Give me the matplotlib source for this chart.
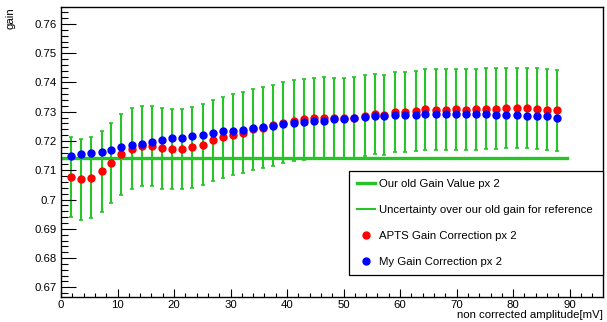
import matplotlib
matplotlib.use("Agg")
import matplotlib.pyplot as plt
from matplotlib.lines import Line2D
from matplotlib.ticker import MultipleLocator, FuncFormatter

plt.rcParams['font.family'] = ['Liberation Sans', 'DejaVu Sans']

# non corrected amplitude [mV]
amplitude = [1.72, 3.54, 5.36, 7.20, 8.85, 10.67, 12.51, 14.34, 16.11, 17.93,
             19.70, 21.42, 23.24, 25.08, 26.85, 28.62, 30.44, 32.21, 34.04, 35.81,
             37.58, 39.35, 41.24, 42.96, 44.73, 46.60, 48.37, 50.14, 51.91, 53.75,
             55.58, 57.22, 59.12, 60.94, 62.78, 64.48, 66.32, 68.09, 69.86, 71.63,
             73.45, 75.22, 76.94, 78.76, 80.65, 82.42, 84.19, 85.96, 87.84]

apts_gain = [0.7077, 0.7069, 0.7075, 0.7097, 0.7125, 0.7155, 0.7174, 0.7183, 0.7183, 0.7175,
             0.7173, 0.7173, 0.7179, 0.7188, 0.7202, 0.7213, 0.7222, 0.7229, 0.7240, 0.7246,
             0.7254, 0.7263, 0.7269, 0.7274, 0.7277, 0.7280, 0.7277, 0.7278, 0.7280, 0.7286,
             0.7292, 0.7289, 0.7299, 0.7299, 0.7303, 0.7308, 0.7307, 0.7307, 0.7308, 0.7307,
             0.7308, 0.7311, 0.7311, 0.7313, 0.7313, 0.7313, 0.7310, 0.7307, 0.7305]

my_gain = [0.7148, 0.7154, 0.7159, 0.7164, 0.7170, 0.7179, 0.7185, 0.7190, 0.7195, 0.7203,
           0.7209, 0.7211, 0.7216, 0.7221, 0.7227, 0.7233, 0.7235, 0.7239, 0.7243, 0.7248,
           0.7253, 0.7257, 0.7262, 0.7264, 0.7268, 0.7270, 0.7274, 0.7276, 0.7279, 0.7283,
           0.7284, 0.7286, 0.7288, 0.7288, 0.7288, 0.7292, 0.7292, 0.7292, 0.7292, 0.7292,
           0.7292, 0.7292, 0.7289, 0.7289, 0.7289, 0.7287, 0.7287, 0.7284, 0.7279]

old_gain = 0.7141
old_gain_range = [0.0, 89.5]
old_gain_unc = 0.0138

green = '#26c426'
fs = 8.2

fig = plt.figure(figsize=(6.07, 3.22), dpi=100)
ax = fig.add_axes([61 / 607, 25 / 322, 542 / 607, 290 / 322])

ax.plot(old_gain_range, [old_gain, old_gain], color=green, lw=2.4, zorder=2)
ax.errorbar(amplitude, apts_gain, yerr=old_gain_unc, fmt='none', ecolor=green,
            elinewidth=1.5, capsize=1.5, capthick=1.2, zorder=1)
ax.plot(amplitude, apts_gain, 'o', color='red', ms=5, mec='red', zorder=3)
ax.plot(amplitude, my_gain, 'o', color='blue', ms=5, mec='blue', zorder=4)

ax.set_xlim(0, 95.9)
ax.set_ylim(0.6667, 0.7658)

ax.xaxis.set_major_locator(MultipleLocator(10))
ax.xaxis.set_minor_locator(MultipleLocator(2))
ax.yaxis.set_major_locator(MultipleLocator(0.01))
ax.yaxis.set_minor_locator(MultipleLocator(0.002))
ax.yaxis.set_major_formatter(FuncFormatter(lambda v, p: '%g' % round(v, 4)))

ax.tick_params(which='both', direction='in', top=False, right=False,
               labelsize=fs, width=0.8, colors='black')
ax.tick_params(axis='x', which='major', length=6, pad=2)
ax.tick_params(axis='x', which='minor', length=3)
ax.tick_params(axis='y', which='major', length=11, pad=3)
ax.tick_params(axis='y', which='minor', length=5)
for s in ax.spines.values():
    s.set_linewidth(1.0)

ax.set_ylabel('gain', fontsize=fs, loc='top', labelpad=14)
ax.set_xlabel('non corrected amplitude[mV]', fontsize=fs, ha='right', va='top')
ax.xaxis.set_label_coords(1.0, -0.044)

handles = [
    Line2D([], [], color=green, lw=2.4),
    Line2D([], [], color=green, lw=1.5),
    Line2D([], [], ls='none', marker='o', color='red', ms=5),
    Line2D([], [], ls='none', marker='o', color='blue', ms=5),
]
labels = ['Our old Gain Value px 2',
          'Uncertainty over our old gain for reference',
          'APTS Gain Correction px 2',
          'My Gain Correction px 2']
leg = ax.legend(handles, labels, loc='lower left',
                bbox_to_anchor=(288 / 542, 22 / 290, 254 / 542, 104 / 290),
                mode='expand', fontsize=fs, frameon=True, fancybox=False,
                edgecolor='black', framealpha=1, borderaxespad=0,
                handlelength=1.6, handletextpad=0.3, labelspacing=1.4,
                borderpad=0.7)
leg.get_frame().set_linewidth(0.9)

fig.savefig('out.png', dpi=100)
